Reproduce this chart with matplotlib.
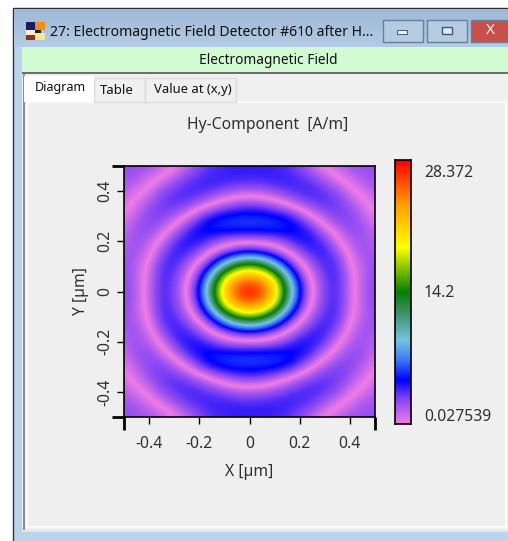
import numpy as np
import matplotlib
matplotlib.use("Agg")
import matplotlib.pyplot as plt
from matplotlib.colors import LinearSegmentedColormap
from matplotlib.patches import Rectangle

plt.rcParams["font.family"] = ["Noto Sans", "DejaVu Sans"]

title = "Hy-Component  [A/m]"
tab_labels = ["Diagram", "Table", "Value at (x,y)"]
cbar_labels = ["28.372", "14.2", "0.027539"]
x_ticks = [-0.4, -0.2, 0, 0.2, 0.4]
y_ticks = [-0.4, -0.2, 0, 0.2, 0.4]
vmax = 28.372

# Hy for one quadrant, step 0.05 um. Sign flips at each pink ring
# so the rings stay sharp after smoothing (the colormap is mirrored around 0)
row_000 = [28.4, 26.5, 21.5, 13.0, 4.9, 0.2, -2.9, -3.7, -1.1, 1.6, 2.5]
row_005 = [25.0, 23.7, 19.5, 10.5, 3.8, -0.4, -3.0, -3.7, -1.0, 1.5, 2.4]
row_010 = [17.0, 15.3, 10.5, 5.2, 1.3, -1.8, -3.6, -3.6, -0.4, 1.4, 2.3]
row_015 = [5.6, 4.8, 3.0, 0.7, -1.8, -3.6, -4.0, -2.5, 0.5, 2.0, 1.9]
row_020 = [-0.6, -0.9, -1.6, -3.0, -4.3, -4.4, -3.3, -0.5, 1.5, 2.1, 1.4]
row_025 = [-5.7, -5.7, -5.6, -5.4, -4.8, -3.4, -0.7, 1.3, 2.4, 2.2, 0.9]
row_030 = [-5.6, -5.5, -5.2, -4.5, -2.7, 0.0, 1.8, 2.9, 2.6, 1.5, 0.1]
row_035 = [-2.6, -2.2, -1.2, 0.3, 1.9, 3.0, 3.4, 3.1, 1.9, 0.6, -0.7]
row_040 = [1.7, 2.0, 2.6, 3.3, 3.7, 3.7, 3.2, 2.3, 0.6, -0.6, -1.5]
row_045 = [3.8, 3.9, 3.9, 3.9, 3.5, 2.9, 1.7, 0.2, -0.9, -1.8, -2.1]
row_050 = [3.9, 3.9, 3.7, 3.3, 2.5, 1.1, -0.4, -1.3, -2.0, -2.2, -2.2]

quad = np.array([row_000, row_005, row_010, row_015, row_020, row_025,
                 row_030, row_035, row_040, row_045, row_050])
field = np.hstack([quad[:, :0:-1], quad])
field = np.vstack([field[:0:-1], field])

# colorbar stops, bottom to top
stop_pos = [0.0, 0.03, 0.10, 0.165, 0.24, 0.316, 0.42, 0.50, 0.67, 0.83, 1.0]
stop_col = ["#ee7ce6", "#d06cea", "#7a40f4", "#0000ff", "#3c78f4", "#74c4e0",
            "#3f9068", "#008000", "#ffff00", "#ffa000", "#ff0000"]
cmap = LinearSegmentedColormap.from_list("field", list(zip(stop_pos, stop_col)), N=512)
mirrored = [((1 - p) / 2, c) for p, c in zip(stop_pos[::-1], stop_col[::-1])]
mirrored += [((1 + p) / 2, c) for p, c in zip(stop_pos[1:], stop_col[1:])]
cmap_signed = LinearSegmentedColormap.from_list("signed", mirrored, N=1024)

W, H = 508, 541
fig = plt.figure(figsize=(W / 100, H / 100), dpi=100, facecolor="white")


def px_axes(x0, y0, x1, y1):
    return fig.add_axes([x0 / W, 1 - y1 / H, (x1 - x0) / W, (y1 - y0) / H])


# window chrome, pixel coordinates
bg = fig.add_axes([0, 0, 1, 1])
bg.set_xlim(0, W)
bg.set_ylim(H, 0)
bg.axis("off")


def box(x0, y0, x1, y1, fc, ec="none", lw=0, z=1):
    bg.add_patch(Rectangle((x0, y0), x1 - x0, y1 - y0, fc=fc, ec=ec, lw=lw, zorder=z))


box(13, 8, W + 5, H + 5, "#bcd3ec", ec="#303030", lw=1)
grad = np.linspace(0, 1, 40)[:, None]
bar_cmap = LinearSegmentedColormap.from_list("bar", ["#9fb8d6", "#b4cbe4"])
bg.imshow(grad, extent=(14, W, 47, 9), cmap=bar_cmap, aspect="auto", zorder=1.5)
bg.set_xlim(0, W)
bg.set_ylim(H, 0)
box(22, 47, W, 72, "#d3fbd3", z=2)
box(22, 72, W, 532, "#f0f0f0", z=2)
box(22, 72, W, 74, "#6e6e6e", z=3)
box(23, 74, 25, 532, "#8c8c8c", z=3)
box(23, 530, W, 532, "#e4e4e4", z=3)
box(27, 102, 506, 527, "#efefef", ec="#fafafa", lw=1.5, z=3)
box(94, 78, 145, 102, "#f0f0f0", ec="#dcdcdc", lw=1, z=3)
box(145, 78, 236, 102, "#f0f0f0", ec="#dcdcdc", lw=1, z=3)
box(24, 76, 94, 102, "white", z=4)

# icon
box(26, 22, 35, 30, "#1a1a6a", z=4)
box(35, 22, 45, 30, "#f09010", z=4)
box(26, 30, 35, 35, "#f8f0d0", z=4)
box(35, 30, 41, 33, "#202020", z=4)
box(35, 33, 45, 40, "#f8e890", z=4)
box(26, 35, 35, 40, "#903020", z=4)

# caption buttons
for x0, x1, fc in [(383, 423, "#b4cbe4"), (427, 467, "#b4cbe4"), (471, 510, "#c8504a")]:
    box(x0, 20, x1, 42, fc, ec="#6d7f96", lw=1, z=4)
box(397, 30, 407, 34, "#eef3f8", ec="#45566e", lw=0.7, z=5)
box(442, 27, 452, 34, "#dfe8f2", ec="#45566e", lw=1, z=5)
bg.text(490, 31, "X", color="white", fontsize=11, fontweight="bold", ha="center",
        va="center", zorder=5)

bg.text(50, 32, "27: Electromagnetic Field Detector #610 after H...", fontsize=10.1,
        color="#101010", va="center", zorder=5)
bg.text(268, 60, "Electromagnetic Field", fontsize=9.9, color="#101010", ha="center",
        va="center", zorder=5)
for lab, xc, yc, fs in zip(tab_labels, [60, 117, 193], [88, 90, 90], [9, 9.5, 9.4]):
    bg.text(xc, yc, lab, fontsize=fs, color="#101010", ha="center", va="center", zorder=5)
bg.text(268, 125, title, fontsize=11.3, color="#303030", ha="center", va="center", zorder=5)

# heat map
ax = px_axes(124, 166, 375, 417)
ax.imshow(field, extent=(-0.525, 0.525, -0.525, 0.525), origin="lower", cmap=cmap_signed,
          vmin=-vmax, vmax=vmax, interpolation="bicubic", interpolation_stage="data")
ax.set_xlim(-0.5, 0.5)
ax.set_ylim(-0.5, 0.5)
ax.set_xticks(x_ticks)
ax.set_yticks(y_ticks)
ax.set_xticklabels(["-0.4", "-0.2", "0", "0.2", "0.4"])
ax.set_yticklabels(["-0.4", "-0.2", "0", "0.2", "0.4"], rotation=90, va="center")
ax.set_xticks([-0.5, 0.5], minor=True)
ax.set_yticks([-0.5, 0.5], minor=True)
ax.tick_params(which="major", length=5, width=1, labelsize=11.3, labelcolor="#303030")
ax.tick_params(which="major", axis="x", pad=8.5)
ax.tick_params(which="major", axis="y", pad=3)
ax.tick_params(which="minor", length=9, width=2)
ax.set_xlabel("X [µm]", fontsize=11.3, color="#303030", labelpad=9)
ax.set_ylabel("Y [µm]", fontsize=11.3, color="#303030", labelpad=6)
for sp in ax.spines.values():
    sp.set_linewidth(1.2)

# color bar
cax = px_axes(395, 160, 411, 424)
cax.imshow(np.linspace(0, 1, 256)[:, None], origin="lower", cmap=cmap, aspect="auto")
cax.set_xticks([])
cax.set_yticks([])
for sp in cax.spines.values():
    sp.set_linewidth(1.2)
for lab, yc in zip(cbar_labels, [173, 293, 417]):
    bg.text(424, yc, lab, fontsize=11.3, color="#303030", va="center", zorder=5)

fig.savefig("out.png", dpi=100)
